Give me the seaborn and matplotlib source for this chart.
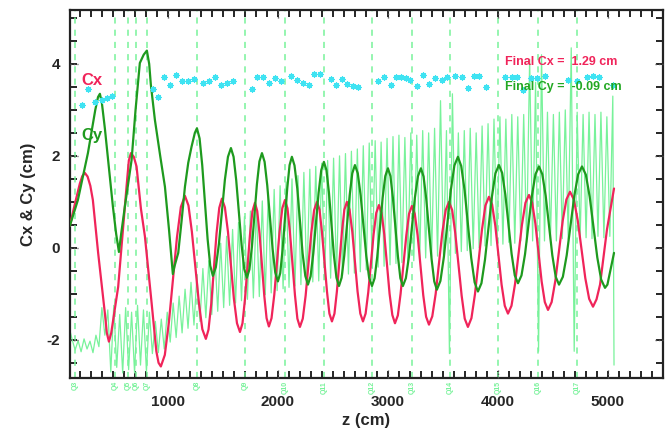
import numpy as np
import pandas as pd
import matplotlib
matplotlib.use("Agg")
import matplotlib.pyplot as plt
import seaborn as sns
from matplotlib.ticker import MultipleLocator
from matplotlib.transforms import blended_transform_factory

# ---- beam centroid Cx along z (cm) ----
cx_z = [109, 154, 200, 222, 245, 270, 295, 318, 366, 427, 445, 464, 485, 548, 624,
        645, 664, 690, 715, 755, 791, 852, 895, 915,
        936, 972, 1009, 1082, 1118, 1155, 1187, 1218, 1282, 1313,
        1345, 1369, 1394, 1442, 1467, 1491, 1518, 1546, 1600, 1628,
        1655, 1678, 1700, 1746, 1768, 1791, 1812, 1833, 1876, 1897,
        1918, 1942, 1967, 2015, 2040, 2064, 2087, 2109, 2155, 2177,
        2200, 2226, 2252, 2303, 2329, 2355, 2378, 2400, 2446, 2468,
        2491, 2514, 2536, 2582, 2604, 2627, 2651, 2676, 2724, 2749,
        2773, 2797, 2821, 2870, 2894, 2918, 2942, 2967, 3015, 3040,
        3064, 3090, 3115, 3167, 3192, 3218, 3244, 3270, 3321, 3347,
        3373, 3403, 3434, 3494, 3525, 3555, 3584, 3612, 3670, 3698,
        3727, 3759, 3791, 3855, 3886, 3918, 3947, 3976, 4033, 4062,
        4091, 4123, 4155, 4218, 4250, 4282, 4311, 4340, 4397, 4426,
        4455, 4488, 4522, 4588, 4622, 4655, 4690, 4725, 4794, 4829,
        4864, 4896, 4928, 4991, 5055]
cx_val = [0.48, 0.95, 1.40, 1.56, 1.63, 1.55, 1.35, 1.04, -0.11, -1.42, -1.85, -2.04,
          -1.85, -0.85, 1.33, 1.90, 2.06, 1.98, 1.77, 0.85, 0.25, -1.20, -2.25, -2.50,
          -2.58, -2.33, -1.62, 0.22, 0.89, 1.13, 0.92, 0.35, -1.20, -1.77,
          -1.98, -1.78, -1.22, 0.31, 0.87, 1.07, 0.88, 0.35, -1.11, -1.64,
          -1.83, -1.64, -1.13, 0.28, 0.79, 0.98, 0.80, 0.31, -1.04, -1.53,
          -1.71, -1.53, -1.02, 0.35, 0.86, 1.04, 0.86, 0.35, -1.03, -1.54,
          -1.72, -1.54, -1.04, 0.32, 0.82, 1.00, 0.83, 0.35, -0.95, -1.43,
          -1.60, -1.43, -0.95, 0.35, 0.83, 1.00, 0.83, 0.35, -0.95, -1.43,
          -1.60, -1.43, -0.97, 0.30, 0.76, 0.93, 0.76, 0.29, -1.00, -1.46,
          -1.64, -1.47, -1.00, 0.27, 0.74, 0.91, 0.74, 0.27, -1.03, -1.50,
          -1.67, -1.49, -1.00, 0.33, 0.82, 1.00, 0.82, 0.32, -1.04, -1.54,
          -1.72, -1.53, -1.01, 0.40, 0.92, 1.11, 0.94, 0.48, -0.80, -1.26,
          -1.43, -1.26, -0.79, 0.50, 0.98, 1.15, 0.98, 0.53, -0.73, -1.18,
          -1.35, -1.18, -0.71, 0.58, 1.05, 1.22, 1.05, 0.60, -0.66, -1.11,
          -1.28, -1.12, -0.80, 0.40, 1.29]

# ---- beam centroid Cy along z (cm) ----
cy_z = [109, 182, 273, 340, 365, 382, 400, 427, 457, 500, 530, 555, 575, 609, 670,
        706, 745, 780, 809, 830, 845, 882, 930, 973, 1010, 1030, 1045, 1060, 1094,
        1125, 1155, 1185, 1215, 1245,
        1264, 1288, 1312, 1361, 1385, 1409, 1436, 1464, 1518, 1546,
        1573, 1597, 1621, 1670, 1694, 1718, 1741, 1764, 1809, 1832,
        1855, 1879, 1903, 1952, 1976, 2000, 2021, 2042, 2085, 2106,
        2127, 2151, 2176, 2224, 2249, 2273, 2297, 2321, 2370, 2394,
        2418, 2441, 2464, 2509, 2532, 2555, 2579, 2603, 2652, 2676,
        2700, 2726, 2752, 2803, 2829, 2855, 2879, 2903, 2952, 2976,
        3000, 3023, 3045, 3091, 3113, 3136, 3163, 3191, 3245, 3273,
        3300, 3324, 3348, 3397, 3421, 3445, 3477, 3509, 3572, 3604,
        3636, 3666, 3697, 3757, 3788, 3818, 3850, 3882, 3945, 3977,
        4009, 4038, 4067, 4124, 4153, 4182, 4214, 4246, 4309, 4341,
        4373, 4403, 4434, 4494, 4525, 4555, 4590, 4625, 4694, 4729,
        4764, 4799, 4834, 4903, 4938, 4973, 4995, 5025, 5055]
cy_val = [0.48, 1.04, 2.06, 3.00, 3.28, 3.35, 3.15, 2.60, 1.90, 0.90, 0.30, -0.09,
          0.30, 0.90, 1.91, 3.00, 4.02, 4.20, 4.29, 4.00, 3.55, 2.78, 2.00, 1.33,
          0.40, -0.15, -0.57, -0.40, -0.11, 0.60, 1.33, 1.85, 2.20, 2.50,
          2.60, 2.38, 1.80, 0.19, -0.39, -0.61, -0.42, 0.09, 1.48, 1.98,
          2.17, 1.98, 1.47, 0.06, -0.46, -0.65, -0.47, 0.03, 1.38, 1.88,
          2.06, 1.87, 1.36, -0.03, -0.54, -0.73, -0.55, -0.05, 1.30, 1.80,
          1.98, 1.79, 1.29, -0.11, -0.61, -0.80, -0.62, -0.13, 1.20, 1.69,
          1.87, 1.69, 1.20, -0.16, -0.65, -0.83, -0.65, -0.17, 1.14, 1.62,
          1.80, 1.62, 1.14, -0.17, -0.65, -0.83, -0.66, -0.19, 1.09, 1.56,
          1.73, 1.56, 1.09, -0.19, -0.66, -0.83, -0.66, -0.19, 1.09, 1.56,
          1.73, 1.55, 1.07, -0.25, -0.73, -0.91, -0.72, -0.19, 1.26, 1.79,
          1.98, 1.78, 1.25, -0.22, -0.75, -0.95, -0.77, -0.26, 1.11, 1.62,
          1.80, 1.63, 1.16, -0.13, -0.60, -0.77, -0.60, -0.14, 1.14, 1.60,
          1.77, 1.60, 1.13, -0.16, -0.63, -0.80, -0.63, -0.16, 1.13, 1.60,
          1.77, 1.59, 1.11, -0.21, -0.69, -0.87, -0.80, -0.45, -0.11]

# ---- fast betatron trace: successive maxima and minima ----
fast_start = (110, -1.80)
fast_end = (5055, -2.55)
fast_max = [-2.00, -2.02, -1.98, -2.03, -1.90,
            -1.30, -1.35, -1.25, -1.45, -1.30, -1.40, -1.25, -1.35, -1.40,
            -1.60, -1.55, -1.40, -1.20, -1.05, -0.90, -0.75,
            -0.60, -0.45, -0.28, -0.10, 0.10, 0.25, 0.40,
            0.55, 0.68, 0.80, 0.90, 1.02, 1.15, 1.27,
            1.35, 1.43, 1.50, 1.57, 1.64, 1.71, 1.77,
            1.84, 1.90, 1.95, 2.00, 2.05, 2.10, 2.15,
            2.22, 2.28, 2.33, 2.30, 2.38, 2.42, 2.45,
            2.40, 2.50, 2.45, 2.55, 2.50, 2.60, 3.20,
            2.55, 3.35, 2.50, 2.55, 2.60, 2.50, 2.65,
            2.70, 2.80, 2.85, 2.80, 2.90, 2.85, 2.90,
            4.10, 3.60, 4.20, 2.95, 2.90, 2.95, 3.00,
            4.35, 2.95, 2.90, 2.95, 2.90, 2.95, 2.85, 3.30]
fast_min = [-2.22, -2.26, -2.20, -2.28, -2.15,
            -1.90, -2.70, -2.60, -2.72, -2.65, -2.72, -2.55, -2.70, -2.30,
            -2.28, -2.20, -2.05, -1.95, -1.85, -1.75, -1.68,
            -1.60, -1.52, -1.45, -1.38, -1.30, -1.25, -1.20,
            -1.15, -1.12, -1.09, -1.06, -1.02, -0.98, -0.93,
            -0.89, -0.86, -0.83, -0.80, -0.77, -0.74, -0.72,
            -0.69, -0.66, -0.63, -0.60, -0.57, -0.55, -0.52,
            -0.48, -0.45, -0.42, -0.40, -0.37, -0.34, -0.32,
            -0.30, -0.28, -0.25, -0.22, -0.20, -0.18, -0.15,
            -2.30, -0.12, -0.08, -0.06, -0.02, 0.00, 0.04,
            0.05, 0.10, 0.08, 0.12, 0.10, 0.15, 0.12,
            0.15, -2.25, 0.15, 0.18, 0.15, 0.20, 0.18,
            -2.25, 0.20, 0.22, 0.20, 0.25, 0.22, 0.25]
fast_first_max_z = 130
fast_half_period = 27

# ---- emittance-like markers ----
mark_z = [215, 276, 336, 397, 443, 488, 867, 912, 964, 1018, 1073, 1130, 1185, 1236,
          1321, 1376, 1427, 1482, 1533, 1588, 1761, 1812, 1867, 1921, 1976, 2027,
          2118, 2176, 2224, 2279, 2327, 2382, 2479, 2527, 2585, 2630, 2685, 2724,
          2912, 2964, 3024, 3073, 3115, 3161, 3200, 3267, 3315, 3376, 3427, 3488,
          3539, 3609, 3670, 3730, 3782, 3830, 3891, 4064, 4124, 4176, 4224, 4297,
          4352, 4427, 4639, 4715, 4806, 4867, 4921, 5042]
mark_val = [3.11, 3.45, 3.18, 3.22, 3.25, 3.30, 3.45, 3.29, 3.72, 3.54, 3.76, 3.62,
            3.62, 3.67, 3.58, 3.62, 3.71, 3.54, 3.59, 3.63, 3.45, 3.71, 3.71, 3.59,
            3.69, 3.62, 3.74, 3.65, 3.58, 3.54, 3.78, 3.78, 3.67, 3.54, 3.67, 3.57,
            3.52, 3.49, 3.62, 3.72, 3.54, 3.72, 3.71, 3.69, 3.64, 3.52, 3.76, 3.57,
            3.69, 3.65, 3.72, 3.74, 3.71, 3.47, 3.74, 3.74, 3.49, 3.71, 3.71, 3.71,
            3.43, 3.69, 3.69, 3.74, 3.65, 3.62, 3.71, 3.74, 3.71, 3.54]

# ---- quadrupole positions (cm) and names ----
quad_z = [155, 518, 636, 709, 809, 1264, 1700, 2064, 2418, 2855, 3218, 3564,
          4000, 4364, 4718]
quad_names = ["Q3", "Q4", "Q5", "Q6", "Q7", "Q8", "Q9", "Q10", "Q11", "Q12",
              "Q13", "Q14", "Q15", "Q16", "Q17"]

final_cx = 1.29
final_cy = -0.09

# ---------------------------------------------------------------
RED = "#f0245a"
DKGREEN = "#1e9a1e"
LTGREEN = "#78f29a"
CYAN = "#3fe3f2"

sns.set_style("ticks")
plt.rcParams["font.family"] = ["Liberation Sans", "DejaVu Sans"]
plt.rcParams["font.weight"] = "bold"
plt.rcParams["axes.unicode_minus"] = False

fig = plt.figure(figsize=(6.69, 4.40), dpi=100)
ax = fig.add_axes([0.1046, 0.141, 0.8864, 0.836])

# fast trace: interleave maxima and minima
fz = [fast_start[0]]
fy = [fast_start[1]]
for k in range(len(fast_max)):
    fz.append(fast_first_max_z + 2 * k * fast_half_period)
    fy.append(fast_max[k])
    if k < len(fast_min):
        fz.append(fast_first_max_z + (2 * k + 1) * fast_half_period)
        fy.append(fast_min[k])
fz.append(fast_end[0])
fy.append(fast_end[1])
fast_df = pd.DataFrame({"z": fz, "c": fy})

for zq in quad_z:
    ax.axvline(zq, color=LTGREEN, lw=1.1, ls=(0, (4, 4)), zorder=1)

sns.lineplot(data=fast_df, x="z", y="c", color=LTGREEN, lw=0.9,
             estimator=None, sort=False, ax=ax, zorder=2)

cx_df = pd.DataFrame({"z": cx_z, "c": cx_val})
cy_df = pd.DataFrame({"z": cy_z, "c": cy_val})
sns.lineplot(data=cx_df, x="z", y="c", color=RED, lw=1.6,
             estimator=None, sort=False, ax=ax, zorder=4)
sns.lineplot(data=cy_df, x="z", y="c", color=DKGREEN, lw=1.6,
             estimator=None, sort=False, ax=ax, zorder=5)

mk_df = pd.DataFrame({"z": mark_z, "c": mark_val})
sns.scatterplot(data=mk_df, x="z", y="c", marker=(8, 2, 0), s=16,
                color=CYAN, linewidth=0.9, ax=ax, zorder=6)

ax.set_xlim(110, 5500)
ax.set_ylim(-2.83, 5.17)

ax.xaxis.set_major_locator(MultipleLocator(1000))
ax.xaxis.set_minor_locator(MultipleLocator(100))
ax.yaxis.set_major_locator(MultipleLocator(2))
ax.yaxis.set_minor_locator(MultipleLocator(0.5))
ax.tick_params(which="both", direction="in", top=True, right=True,
               width=1.2, color="black")
ax.tick_params(which="major", length=5)
ax.tick_params(which="minor", length=5)
ax.tick_params(axis="x", which="major", pad=12, labelsize=11)
ax.tick_params(axis="y", which="major", pad=7, labelsize=11)
for lab in ax.get_xticklabels() + ax.get_yticklabels():
    lab.set_fontweight("bold")

for side in ["left", "right", "bottom", "top"]:
    ax.spines[side].set_linewidth(1.6)
    ax.spines[side].set_color("#222222")

ax.set_xlabel("z (cm)", fontsize=12, fontweight="bold", labelpad=3)
ax.set_ylabel("Cx & Cy (cm)", fontsize=12, fontweight="bold", labelpad=8)

# small dotted grid stubs at the major ticks
tr_x = blended_transform_factory(ax.transData, ax.transAxes)
tr_y = blended_transform_factory(ax.transAxes, ax.transData)
for zt in [1000, 2000, 3000, 4000, 5000]:
    ax.plot([zt, zt], [0.0, 0.022], transform=tr_x, color="#555555", lw=1,
            ls=(0, (1, 1.5)), zorder=7, clip_on=False)
    ax.plot([zt, zt], [0.978, 1.0], transform=tr_x, color="#555555", lw=1,
            ls=(0, (1, 1.5)), zorder=7, clip_on=False)
for yt in [-2, 0, 2, 4]:
    ax.plot([0.0, 0.014], [yt, yt], transform=tr_y, color="#555555", lw=1,
            ls=(0, (1, 1.5)), zorder=7, clip_on=False)
    ax.plot([0.986, 1.0], [yt, yt], transform=tr_y, color="#555555", lw=1,
            ls=(0, (1, 1.5)), zorder=7, clip_on=False)

# quadrupole names under the axis
for zq, name in zip(quad_z, quad_names):
    ax.text(zq, -0.008, name, transform=tr_x, rotation=90, ha="center",
            va="top", fontsize=5, color=LTGREEN, clip_on=False)

ax.text(309, 3.54, "Cx", color=RED, fontsize=12, fontweight="bold",
        ha="center", va="baseline", zorder=8)
ax.text(309, 2.35, "Cy", color=DKGREEN, fontsize=12, fontweight="bold",
        ha="center", va="baseline", zorder=8)
ax.text(4064, 3.98, f"Final Cx =  {final_cx:.2f} cm", color=RED, fontsize=9,
        fontweight="bold", ha="left", va="baseline", zorder=8)
ax.text(4064, 3.43, f"Final Cy =  {final_cy:.2f} cm", color="#22a822",
        fontsize=9, fontweight="bold", ha="left", va="baseline", zorder=8)

fig.savefig("out.png", dpi=100)
